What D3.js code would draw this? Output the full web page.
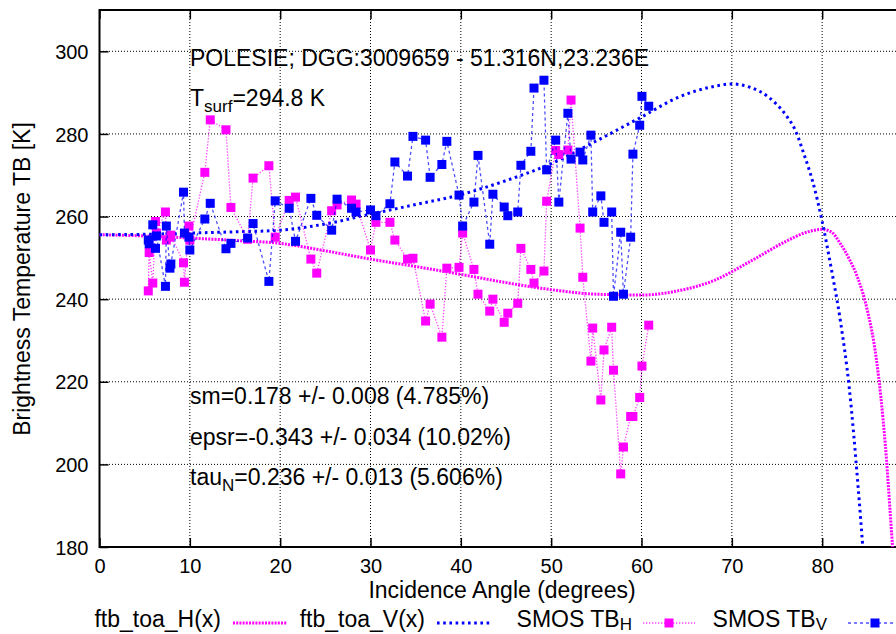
<!DOCTYPE html>
<html><head><meta charset="utf-8">
<script src="https://cdn.jsdelivr.net/npm/d3@7"></script>
<style>
body{margin:0;background:#fff}
svg{display:block}
text{font-family:"Liberation Sans",Arial,Helvetica,sans-serif;fill:#000}
</style>
</head><body>
<svg id="c" width="896" height="634"></svg>
<script>
// ---------------- data ----------------
const xTicks = [0,10,20,30,40,50,60,70,80,90];
const xTickLabels = ["0","10","20","30","40","50","60","70","80",""];
const yTicks = [180,200,220,240,260,280,300];

// model curves
const ftbH_angle = [0,5,10,15,20,25,30,35,40,45,50,55,60,64,68,72,76,78,80,81,82,83,84,85,86,87,87.8,88.5];
const ftbH_value = [255.6,255.3,254.8,254.2,253.5,251.7,249.7,247.9,246.0,244.0,242.3,241.2,241.0,242.0,244.5,249.1,254.0,256.0,256.9,256.3,253.5,249.7,244.8,237.3,225.5,204.5,180,160];
const ftbV_angle = [0,5,10,15,20,25,30,35,40,45,50,55,60,64,68,70,72,74,76,77,78,79,80,81,82,83,84,84.5,85];
const ftbV_value = [255.6,255.7,256.0,256.3,256.7,258.2,260.6,262.9,265.3,268.7,272.8,278.3,284.1,288.8,291.5,292.1,291.3,289.0,284.5,281.0,275.0,268.1,258.8,247.5,235.0,218.5,194.0,180,166];

// SMOS observations
const smosAngle = [5.4,5.5,5.9,6.2,6.3,7.3,7.4,7.8,7.9,9.3,9.4,9.9,10.0,11.66,12.26,14.0,14.55,16.4,17.0,18.75,19.45,21.0,21.7,23.4,24.05,25.7,26.3,27.9,28.4,30.0,30.6,32.15,32.7,34.1,34.7,36.1,36.6,37.9,38.45,39.8,40.2,41.45,41.9,43.2,43.55,44.8,45.2,46.3,46.65,47.75,48.1,49.2,49.5,50.5,50.85,51.85,52.2,53.2,53.5,54.4,54.6,55.5,55.85,56.7,56.9,57.7,58.0,58.8,59.05,59.8,60.05,60.8];
const smosTBH = [242.0,251.3,243.9,258.8,256.0,261.1,254.3,255.0,255.5,248.8,244.1,257.7,254.3,270.7,283.4,281.0,262.2,254.5,269.3,272.3,255.0,263.9,264.7,249.7,246.3,261.4,262.8,264.0,263.0,251.9,258.6,258.6,254.3,249.7,249.9,234.7,238.8,230.8,247.5,247.7,256.0,247.2,241.2,237.1,240.0,234.4,236.6,239.0,252.3,247.2,243.9,246.8,263.7,276.0,275.0,276.1,288.2,257.2,245.3,225.0,233.0,215.6,227.7,233.2,222.8,197.7,204.2,211.6,211.6,216.2,223.8,233.7];
const smosTBV = [254.3,253.4,258.0,252.3,255.3,243.1,257.7,247.5,248.5,265.9,256.0,255.0,251.9,259.4,263.2,252.2,253.5,254.8,258.3,244.3,263.8,262.0,254.0,264.4,260.3,256.7,264.2,262.0,261.1,261.6,260.2,263.1,273.2,269.8,279.4,278.5,269.5,272.6,278.2,265.2,257.7,263.5,274.8,253.3,265.4,262.3,260.2,261.1,272.4,275.8,291.1,293.0,271.3,278.5,263.5,285.0,273.9,275.6,273.7,279.7,261.1,265.0,258.6,261.1,240.7,256.2,241.2,255.0,275.1,282.1,289.1,286.7];

const legendLabels = ["ftb_toa_H(x)","ftb_toa_V(x)","SMOS TB","SMOS TB"];
const legendSubs = ["","","H","V"];

// ---------------- drawing ----------------
const svg = d3.select("#c");
svg.append("rect").attr("width",896).attr("height",634).attr("fill","#fff");

const L = 100, T = 10, B = 547, R = 912.5;
const x = d3.scaleLinear().domain([0,90]).range([99.5,R]);
const y = d3.scaleLinear().domain([180,310]).range([B,T]);

const MAG = "#ff00ff", BLU = "#0000ff";
const FONT_BIG = 23, FONT_TICK = 20;

svg.append("clipPath").attr("id","plot").append("rect")
  .attr("x",99).attr("y",T).attr("width",R-99).attr("height",B-T);

// grid
const g = svg.append("g");
g.selectAll(".vg").data(xTicks.filter(d=>d>0)).join("line")
  .attr("x1",d=>x(d)).attr("x2",d=>x(d)).attr("y1",T).attr("y2",B)
  .attr("stroke","#000").attr("stroke-width",1).attr("stroke-dasharray","1,2");
g.selectAll(".hg").data(yTicks.filter(d=>d>180)).join("line")
  .attr("x1",L).attr("x2",R).attr("y1",d=>y(d)).attr("y2",d=>y(d))
  .attr("stroke","#000").attr("stroke-width",1).attr("stroke-dasharray","1,2");

// axes using d3 axis generators (ticks inward)
const yAxis = d3.axisLeft(y).tickValues(yTicks).tickSizeInner(-9).tickSizeOuter(0).tickPadding(12);
const gy = svg.append("g").attr("transform",`translate(${x(0)},0)`).call(yAxis);
gy.select(".domain").remove();
gy.selectAll(".tick line").attr("stroke","#000").attr("stroke-width",1.5);
gy.selectAll(".tick text").attr("font-size",FONT_TICK).attr("font-family","Liberation Sans, Arial, sans-serif").attr("x",-11).attr("dy","0.36em");

const xAxis = d3.axisBottom(x).tickValues(xTicks).tickFormat((d,i)=>xTickLabels[i]).tickSizeInner(-9).tickSizeOuter(0).tickPadding(14);
const gx = svg.append("g").attr("transform",`translate(0,${B})`).call(xAxis);
gx.select(".domain").remove();
gx.selectAll(".tick line").attr("stroke","#000").attr("stroke-width",1.5);
gx.selectAll(".tick text").attr("font-size",FONT_TICK).attr("font-family","Liberation Sans, Arial, sans-serif").attr("y",12).attr("dy","0.71em");

const xTop = d3.axisTop(x).tickValues(xTicks).tickSizeInner(-9).tickSizeOuter(0).tickFormat("");
const gt = svg.append("g").attr("transform",`translate(0,${T})`).call(xTop);
gt.select(".domain").remove();
gt.selectAll(".tick line").attr("stroke","#000").attr("stroke-width",1.5);

// border
svg.append("path").attr("d",`M${R+10},${T}H${x(0)}V${B}H${R+10}`)
  .attr("fill","none").attr("stroke","#000").attr("stroke-width",2);

// curves
const plot = svg.append("g").attr("clip-path","url(#plot)");
const lineGen = d3.line().x(d=>x(d[0])).y(d=>y(d[1])).curve(d3.curveMonotoneX);
const hPts = ftbH_angle.map((a,i)=>[a,ftbH_value[i]]);
const vPts = ftbV_angle.map((a,i)=>[a,ftbV_value[i]]);
plot.append("path").attr("d",lineGen(hPts)).attr("fill","none")
  .attr("stroke",MAG).attr("stroke-width",3).attr("stroke-dasharray","2,1.2");
plot.append("path").attr("d",lineGen(vPts)).attr("fill","none")
  .attr("stroke",BLU).attr("stroke-width",3).attr("stroke-dasharray","2.6,3.6");

// SMOS data
const linLine = d3.line().x(d=>x(d[0])).y(d=>y(d[1]));
const obsH = smosAngle.map((a,i)=>[a,smosTBH[i]]);
const obsV = smosAngle.map((a,i)=>[a,smosTBV[i]]);
const MS = 9;
plot.append("path").attr("d",linLine(obsH)).attr("fill","none")
  .attr("stroke",MAG).attr("stroke-opacity",0.75).attr("stroke-width",1.3).attr("stroke-dasharray","1.3,1.7");
plot.selectAll(".mh").data(obsH).join("rect")
  .attr("x",d=>x(d[0])-MS/2).attr("y",d=>y(d[1])-MS/2).attr("width",MS).attr("height",MS).attr("fill",MAG);
plot.append("path").attr("d",linLine(obsV)).attr("fill","none")
  .attr("stroke",BLU).attr("stroke-opacity",0.7).attr("stroke-width",1.3).attr("stroke-dasharray","3,3");
plot.selectAll(".mv").data(obsV).join("rect")
  .attr("x",d=>x(d[0])-MS/2).attr("y",d=>y(d[1])-MS/2).attr("width",MS).attr("height",MS).attr("fill",BLU);

// annotations
function txt(xp, yp, parts, anchor, subShift){
  const sh = subShift||6;
  const t = svg.append("text").attr("x",xp).attr("y",yp).attr("font-size",FONT_BIG).attr("text-anchor",anchor||"start");
  let shift = 0;
  parts.forEach(p=>{
    const s = t.append("tspan").text(p[0]);
    if(p[1]==="sub"){ s.attr("font-size",17).attr("dy",sh-shift); shift=sh; }
    else { if(shift){ s.attr("dy",-shift); shift=0; } }
  });
  return t;
}
txt(190,66,[["POLESIE; DGG:3009659 - 51.316N,23.236E"]]);
txt(190,106,[["T"],["surf","sub"],["=294.8 K"]]);
txt(190,404,[["sm=0.178 +/- 0.008 (4.785%)"]]);
txt(190,445,[["epsr=-0.343 +/- 0.034 (10.02%)"]]);
txt(190,485,[["tau"],["N","sub"],["=0.236 +/- 0.013 (5.606%)"]]);

// axis titles
svg.append("text").attr("x",502).attr("y",598).attr("text-anchor","middle").attr("font-size",FONT_BIG)
  .text("Incidence Angle (degrees)");
svg.append("text").attr("transform","translate(30,279) rotate(-90)").attr("text-anchor","middle").attr("font-size",FONT_BIG)
  .text("Brightness Temperature TB [K]");

// legend
const legY = 623, legBase = 627;
const legEnds = [221,425,632,827];
const legSample = [[233,287],[437,490],[643,695],[848,902]];
legendLabels.forEach((lab,i)=>{
  const parts = legendSubs[i] ? [[lab],[legendSubs[i],"sub"]] : [[lab]];
  txt(legEnds[i],legBase,parts,"end",3);
});
svg.append("line").attr("x1",legSample[0][0]).attr("x2",legSample[0][1]).attr("y1",legY).attr("y2",legY)
  .attr("stroke",MAG).attr("stroke-width",3).attr("stroke-dasharray","2,1.2");
svg.append("line").attr("x1",legSample[1][0]).attr("x2",legSample[1][1]).attr("y1",legY).attr("y2",legY)
  .attr("stroke",BLU).attr("stroke-width",3).attr("stroke-dasharray","2.6,3.6");
svg.append("line").attr("x1",legSample[2][0]).attr("x2",legSample[2][1]).attr("y1",legY).attr("y2",legY)
  .attr("stroke",MAG).attr("stroke-opacity",0.75).attr("stroke-width",1.3).attr("stroke-dasharray","1.3,1.7");
svg.append("rect").attr("x",(legSample[2][0]+legSample[2][1])/2-MS/2).attr("y",legY-MS/2).attr("width",MS).attr("height",MS).attr("fill",MAG);
svg.append("line").attr("x1",legSample[3][0]).attr("x2",legSample[3][1]).attr("y1",legY).attr("y2",legY)
  .attr("stroke",BLU).attr("stroke-opacity",0.7).attr("stroke-width",1.3).attr("stroke-dasharray","3,3");
svg.append("rect").attr("x",(legSample[3][0]+legSample[3][1])/2-MS/2).attr("y",legY-MS/2).attr("width",MS).attr("height",MS).attr("fill",BLU);
</script>
</body></html>
